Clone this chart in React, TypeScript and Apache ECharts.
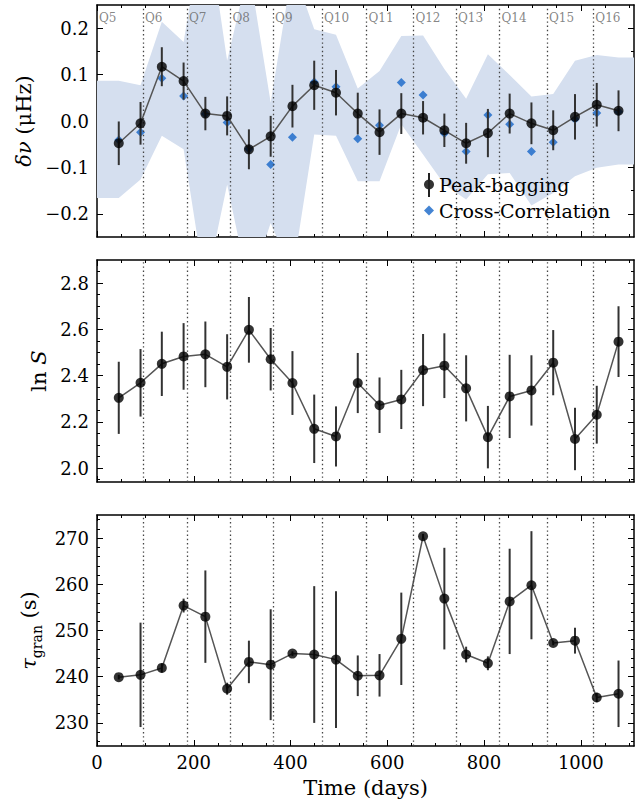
import React, { useEffect, useRef } from "react";
import * as echarts from "echarts";

// ---------- data ----------
const days = [45, 90, 134, 179, 224, 269, 314, 359, 404, 449, 494, 539, 584, 629, 674, 718, 763, 808, 853, 898, 943, 988, 1033, 1078];

const quarterStarts = [0, 95, 186, 276, 364, 465, 557, 654, 742, 832, 930, 1026];
const quarterLabels = ["Q5", "Q6", "Q7", "Q8", "Q9", "Q10", "Q11", "Q12", "Q13", "Q14", "Q15", "Q16"];

// delta nu (muHz)
const pbDnu = [-0.048, -0.005, 0.117, 0.086, 0.016, 0.011, -0.061, -0.033, 0.032, 0.077, 0.061, 0.016, -0.024, 0.016, 0.007, -0.020, -0.048, -0.026, 0.016, -0.005, -0.020, 0.009, 0.035, 0.022];
const pbDnuErr = [0.047, 0.046, 0.042, 0.040, 0.036, 0.042, 0.043, 0.044, 0.046, 0.053, 0.049, 0.045, 0.049, 0.044, 0.036, 0.036, 0.044, 0.052, 0.043, 0.045, 0.043, 0.049, 0.047, 0.044];
const ccDnu = [-0.041, -0.024, 0.092, 0.054, 0.015, -0.003, -0.060, -0.094, -0.035, 0.084, 0.074, -0.038, -0.009, 0.083, 0.056, -0.027, -0.066, 0.013, -0.007, -0.066, -0.046, 0.004, 0.017, 0.020];
const bandUpper = [0.087, 0.077, 0.214, 0.170, 0.45, 0.13, 0.33, 0.04, 0.33, 0.198, 0.186, 0.07, 0.108, 0.183, 0.184, 0.112, 0.048, 0.144, 0.099, 0.053, 0.058, 0.13, 0.142, 0.137];
const bandLower = [-0.166, -0.126, -0.032, -0.061, -0.36, -0.137, -0.36, -0.22, -0.33, -0.029, -0.032, -0.13, -0.13, -0.007, -0.072, -0.137, -0.169, -0.115, -0.112, -0.182, -0.155, -0.119, -0.101, -0.094];

// ln S
const lnS = [2.304, 2.369, 2.451, 2.483, 2.492, 2.438, 2.598, 2.471, 2.368, 2.170, 2.137, 2.368, 2.272, 2.297, 2.424, 2.443, 2.345, 2.134, 2.310, 2.336, 2.456, 2.126, 2.231, 2.547];
const lnSErr = [0.156, 0.146, 0.139, 0.144, 0.142, 0.141, 0.142, 0.135, 0.138, 0.148, 0.130, 0.130, 0.120, 0.128, 0.156, 0.140, 0.143, 0.135, 0.180, 0.152, 0.141, 0.135, 0.125, 0.153];

// tau_gran (s)
const tau = [239.9, 240.4, 241.9, 255.4, 253.0, 237.4, 243.2, 242.6, 245.0, 244.8, 243.7, 240.2, 240.3, 248.2, 270.4, 256.9, 244.8, 242.9, 256.3, 259.8, 247.3, 247.8, 235.5, 236.3];
const tauErr = [0.5, 11.3, 1.0, 1.5, 10.0, 1.3, 4.6, 12.0, 0.5, 14.8, 14.8, 4.4, 4.6, 10.0, 0.5, 11.0, 1.7, 1.5, 11.4, 11.7, 0.5, 2.8, 1.0, 7.2];

// ticks
const xMajorTicks = [0, 200, 400, 600, 800, 1000];
const xMinorTicks = [50, 100, 150, 250, 300, 350, 450, 500, 550, 650, 700, 750, 850, 900, 950, 1050, 1100];
const dnuMajorTicks = [-0.2, -0.1, 0.0, 0.1, 0.2];
const dnuMinorTicks = [-0.15, -0.05, 0.05, 0.15];
const lnSMajorTicks = [2.0, 2.2, 2.4, 2.6, 2.8];
const lnSMinorTicks = [1.95, 2.05, 2.1, 2.15, 2.25, 2.3, 2.35, 2.45, 2.5, 2.55, 2.65, 2.7, 2.75, 2.85];
const tauMajorTicks = [230, 240, 250, 260, 270];
const tauMinorTicks = [226, 228, 232, 234, 236, 238, 242, 244, 246, 248, 252, 254, 256, 258, 262, 264, 266, 268, 272, 274];

const X_MAX = 1110;
const FONT = "'DejaVu Serif', serif";

function makeXAxes(g: number, showLabels: boolean) {
  const base: any = { type: "value", gridIndex: g, min: 0, max: X_MAX, splitLine: { show: false } };
  const line = { show: true, onZero: false, lineStyle: { color: "#000", width: 1.5 } };
  const noLine = { show: false, onZero: false };
  const tick = (vals: number[], len: number) => ({ show: true, inside: true, length: len, customValues: vals, lineStyle: { color: "#000", width: 1 } });
  return [
    {
      ...base,
      position: "bottom",
      axisLine: line,
      axisTick: tick(xMajorTicks, 6),
      axisLabel: { show: showLabels, customValues: xMajorTicks, margin: 7, fontFamily: FONT, fontSize: 18, color: "#000", formatter: (v: number) => String(v) },
      name: showLabels ? "Time (days)" : "",
      nameLocation: "middle",
      nameGap: 31,
      nameTextStyle: { fontFamily: FONT, fontSize: 21, color: "#000" },
    },
    { ...base, position: "bottom", axisLine: noLine, axisTick: tick(xMinorTicks, 3), axisLabel: { show: false, customValues: xMinorTicks } },
    { ...base, position: "top", axisLine: line, axisTick: tick(xMajorTicks, 6), axisLabel: { show: false, customValues: xMajorTicks } },
    { ...base, position: "top", axisLine: noLine, axisTick: tick(xMinorTicks, 3), axisLabel: { show: false, customValues: xMinorTicks } },
  ];
}

function makeYAxes(g: number, min: number, max: number, major: number[], minor: number[], fmt: (v: number) => string, name: string, nameGap: number, rich: any) {
  const base: any = { type: "value", gridIndex: g, min, max, splitLine: { show: false } };
  const line = { show: true, onZero: false, lineStyle: { color: "#000", width: 1.5 } };
  const noLine = { show: false, onZero: false };
  const tick = (vals: number[], len: number) => ({ show: true, inside: true, length: len, customValues: vals, lineStyle: { color: "#000", width: 1 } });
  return [
    {
      ...base,
      position: "left",
      axisLine: line,
      axisTick: tick(major, 6),
      axisLabel: { show: true, customValues: major, margin: 8, fontFamily: FONT, fontSize: 18, color: "#000", formatter: fmt },
      name,
      nameLocation: "middle",
      nameRotate: 90,
      nameGap,
      nameTextStyle: { fontFamily: FONT, fontSize: 21, color: "#000", rich },
    },
    { ...base, position: "left", axisLine: noLine, axisTick: tick(minor, 3), axisLabel: { show: false, customValues: minor } },
    { ...base, position: "right", axisLine: line, axisTick: tick(major, 6), axisLabel: { show: false, customValues: major } },
    { ...base, position: "right", axisLine: noLine, axisTick: tick(minor, 3), axisLabel: { show: false, customValues: minor } },
  ];
}

const quarterLines = quarterStarts.slice(1);

function dottedMarkLine() {
  return {
    silent: true,
    symbol: ["none", "none"],
    label: { show: false },
    lineStyle: { type: [1.4, 2.8], color: "#444", width: 1.3 },
    data: quarterLines.map((x) => ({ xAxis: x })),
  };
}

function errorBarSeries(name: string, axisIdx: number, vals: number[], errs: number[]) {
  return {
    type: "custom",
    name,
    xAxisIndex: axisIdx,
    yAxisIndex: axisIdx,
    silent: true,
    z: 4,
    data: days.map((d, i) => [d, vals[i], errs[i]]),
    encode: { x: 0, y: 1 },
    renderItem: (params: any, api: any) => {
      const x = api.value(0);
      const y = api.value(1);
      const e = api.value(2);
      const p1 = api.coord([x, y - e]);
      const p2 = api.coord([x, y + e]);
      return {
        type: "line",
        shape: { x1: p1[0], y1: p1[1], x2: p2[0], y2: p2[1] },
        style: { stroke: "#333", lineWidth: 2 },
      };
    },
  };
}

function connectSeries(name: string, axisIdx: number, vals: number[]) {
  return {
    type: "line",
    name,
    xAxisIndex: axisIdx,
    yAxisIndex: axisIdx,
    data: days.map((d, i) => [d, vals[i]]),
    symbol: "none",
    silent: true,
    z: 3,
    lineStyle: { color: "#555", width: 1.5 },
    markLine: dottedMarkLine(),
  };
}

function pointSeries(name: string, axisIdx: number, vals: number[]) {
  return {
    type: "scatter",
    name,
    xAxisIndex: axisIdx,
    yAxisIndex: axisIdx,
    data: days.map((d, i) => [d, vals[i]]),
    symbol: "circle",
    symbolSize: 10,
    silent: true,
    z: 5,
    itemStyle: { color: "#000" },
  };
}

const minusFmt = (v: number) => {
  const s = Math.abs(v).toFixed(1);
  return v < -1e-9 ? "\u2212" + s : s;
};

export default function App() {
  const ref = useRef<HTMLDivElement>(null);
  useEffect(() => {
    if (!ref.current) return;
    const chart = echarts.init(ref.current, null, { renderer: "svg" });
    const ital = { fontStyle: "italic", fontFamily: FONT, fontSize: 21, color: "#000" };
    const option: any = {
      animation: false,
      backgroundColor: "#fff",
      grid: [
        { left: 97, top: 5, width: 537, height: 232 },
        { left: 97, top: 260, width: 537, height: 222 },
        { left: 97, top: 515, width: 537, height: 231 },
      ],
      xAxis: [...makeXAxes(0, false), ...makeXAxes(1, false), ...makeXAxes(2, true)],
      yAxis: [
        ...makeYAxes(0, -0.25, 0.25, dnuMajorTicks, dnuMinorTicks, minusFmt, "{i|\u03b4\u03bd} (\u03bcHz)", 52, { i: ital }),
        ...makeYAxes(1, 1.94, 2.9, lnSMajorTicks, lnSMinorTicks, (v: number) => v.toFixed(1), "ln {i|S}", 46, { i: ital }),
        ...makeYAxes(2, 225, 275, tauMajorTicks, tauMinorTicks, (v: number) => String(Math.round(v)), "{i|\u03c4}{s|gran} (s)", 49, {
          i: ital,
          s: { fontFamily: FONT, fontSize: 14, color: "#000", verticalAlign: "bottom", padding: [0, 0, -4, 0] },
        }),
      ],
      legend: {
        data: [
          { name: "Peak-bagging", icon: "circle" },
          { name: "Cross-Correlation", icon: "diamond" },
        ],
        orient: "vertical",
        left: 424,
        top: 175,
        padding: 0,
        itemWidth: 10,
        itemHeight: 10,
        itemGap: 7,
        selectedMode: false,
        textStyle: { fontFamily: FONT, fontSize: 19, color: "#000" },
      },
      graphic: [
        { type: "line", shape: { x1: 429, y1: 173, x2: 429, y2: 197 }, style: { stroke: "#222", lineWidth: 2 }, z: 100 },
      ],
      series: [
        // band
        {
          type: "custom",
          name: "band",
          xAxisIndex: 0,
          yAxisIndex: 0,
          clip: true,
          silent: true,
          z: 1,
          data: [[0, 0]],
          renderItem: (params: any, api: any) => {
            const xs = [0, ...days, X_MAX];
            const up = [bandUpper[0], ...bandUpper, bandUpper[bandUpper.length - 1]];
            const lo = [bandLower[0], ...bandLower, bandLower[bandLower.length - 1]];
            const pts: number[][] = [];
            for (let i = 0; i < xs.length; i++) pts.push(api.coord([xs[i], up[i]]));
            for (let i = xs.length - 1; i >= 0; i--) pts.push(api.coord([xs[i], lo[i]]));
            return { type: "polygon", shape: { points: pts }, style: { fill: "#d5dfef" } };
          },
        },
        // quarter labels
        {
          type: "scatter",
          name: "quarters",
          xAxisIndex: 0,
          yAxisIndex: 0,
          symbol: "circle",
          symbolSize: 0,
          silent: true,
          z: 6,
          data: quarterStarts.map((x, i) => ({ value: [x, 0.222], name: quarterLabels[i] })),
          label: { show: true, position: "right", distance: 2, formatter: "{b}", fontFamily: FONT, fontSize: 12, color: "#666" },
        },
        {
          type: "scatter",
          name: "Cross-Correlation",
          xAxisIndex: 0,
          yAxisIndex: 0,
          data: days.map((d, i) => [d, ccDnu[i]]),
          symbol: "diamond",
          symbolSize: [9, 9],
          silent: true,
          z: 2,
          itemStyle: { color: "#1565c8" },
        },
        connectSeries("pb-line-0", 0, pbDnu),
        errorBarSeries("pb-err-0", 0, pbDnu, pbDnuErr),
        pointSeries("Peak-bagging", 0, pbDnu),
        connectSeries("lnS-line", 4, lnS),
        errorBarSeries("lnS-err", 4, lnS, lnSErr),
        pointSeries("lnS-pts", 4, lnS),
        connectSeries("tau-line", 8, tau),
        errorBarSeries("tau-err", 8, tau, tauErr),
        pointSeries("tau-pts", 8, tau),
      ],
    };
    chart.setOption(option);
    return () => chart.dispose();
  }, []);
  return <div ref={ref} style={{ position: "absolute", left: 0, top: 0, width: 644, height: 803 }} />;
}
